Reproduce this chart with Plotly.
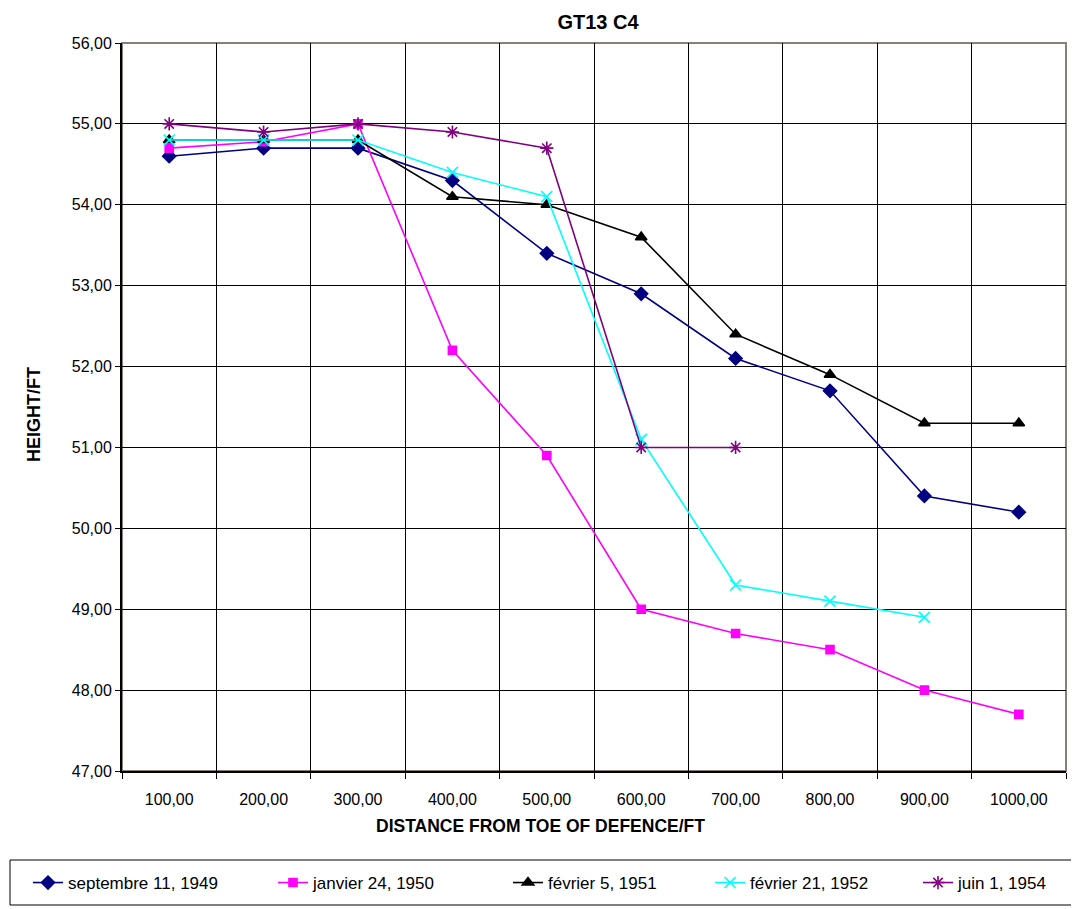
import plotly.graph_objects as go

# Données
distances = ["100,00", "200,00", "300,00", "400,00", "500,00",
             "600,00", "700,00", "800,00", "900,00", "1000,00"]

sept_1949 = [54.6, 54.7, 54.7, 54.3, 53.4, 52.9, 52.1, 51.7, 50.4, 50.2]
janv_1950 = [54.7, 54.78, 55.0, 52.2, 50.9, 49.0, 48.7, 48.5, 48.0, 47.7]
fev_1951 = [54.8, 54.8, 54.8, 54.1, 54.0, 53.6, 52.4, 51.9, 51.3, 51.3]
fev_1952 = [54.8, 54.8, 54.8, 54.4, 54.1, 51.1, 49.3, 49.1, 48.9, None]
juin_1954 = [55.0, 54.9, 55.0, 54.9, 54.7, 51.0, 51.0, None, None, None]

series = [
    ("septembre 11, 1949", sept_1949, "#000080", "diamond", 10),
    ("janvier 24, 1950", janv_1950, "#FF00FF", "square", 8),
    ("février 5, 1951", fev_1951, "#000000", "triangle-up", 10),
    ("février 21, 1952", fev_1952, "#00FFFF", "x-thin-open", 11),
    ("juin 1, 1954", juin_1954, "#800080", "asterisk-open", 11),
]

# la page a une marge de 8px autour de la figure
W, H = 1079, 909
L, T = 114, 35
R, B = W - 1058, H - 763
pw, ph = W - L - R, H - T - B


def px_x(x):
    return (x - L) / pw


def px_y(y):
    return (H - B - y) / ph


# position (gauche) de chaque légende, en pixels
legend_left = [20, 265, 500, 702, 910]

fig = go.Figure()
for i, (nom, vals, couleur, symbole, taille) in enumerate(series):
    leg = "legend" if i == 0 else "legend%d" % (i + 1)
    fig.add_trace(go.Scatter(
        x=distances, y=vals, name=nom, mode="lines+markers",
        line=dict(color=couleur, width=1.6),
        marker=dict(symbol=symbole, size=taille, color=couleur,
                    line=dict(color=couleur, width=1.6)),
        connectgaps=False, legend=leg,
    ))
    fig.update_layout({leg: dict(
        xref="container", yref="container",
        x=legend_left[i] / W, xanchor="left",
        y=1 - 875 / H, yanchor="middle",
        borderwidth=0, bgcolor="rgba(0,0,0,0)",
        font=dict(size=17),
    )})

# cadre gris haut / droite
fig.add_shape(type="rect", xref="paper", yref="paper", x0=0, y0=0, x1=1, y1=1,
              line=dict(color="#8c7d7d", width=2), layer="below")
# cadre de la légende
fig.add_shape(type="rect", xref="paper", yref="paper",
              x0=px_x(2), x1=px_x(1085), y0=px_y(852), y1=px_y(897),
              line=dict(color="black", width=1), fillcolor="white", layer="below")

fig.add_annotation(text="<b>HEIGHT/FT</b>", xref="paper", yref="paper",
                   x=px_x(14), y=px_y(407), textangle=-90, showarrow=False,
                   font=dict(size=18))
fig.add_annotation(text="<b>DISTANCE FROM TOE OF DEFENCE/FT</b>", xref="paper",
                   yref="paper", x=px_x(532), y=px_y(830), showarrow=False,
                   font=dict(size=17.5))

fig.update_layout(
    width=W, height=H,
    margin=dict(l=L, r=R, t=T, b=B, autoexpand=False),
    paper_bgcolor="white", plot_bgcolor="white",
    separators=", ",
    font=dict(family="Liberation Sans, Arial", size=16, color="black"),
    title=dict(text="<b>GT13 C4</b>", xref="paper", x=px_x(590), xanchor="center",
               yref="container", y=1 - 14 / H, yanchor="middle",
               font=dict(size=20)),
    showlegend=True,
)
fig.update_xaxes(
    type="category", tickson="boundaries", showgrid=True, gridcolor="black",
    gridwidth=1, showline=True, linecolor="black", linewidth=2,
    ticks="outside", ticklen=6, tickcolor="black", ticklabelstandoff=13,
    tickangle=0, automargin=False, range=[-0.5, 9.5],
)
fig.update_yaxes(
    range=[47, 56], dtick=1, tickformat=".2f", showgrid=True, gridcolor="black",
    gridwidth=1, showline=True, linecolor="black", linewidth=2,
    ticks="outside", ticklen=5, tickcolor="black", zeroline=False,
    automargin=False,
)

fig.write_html("out.html")
